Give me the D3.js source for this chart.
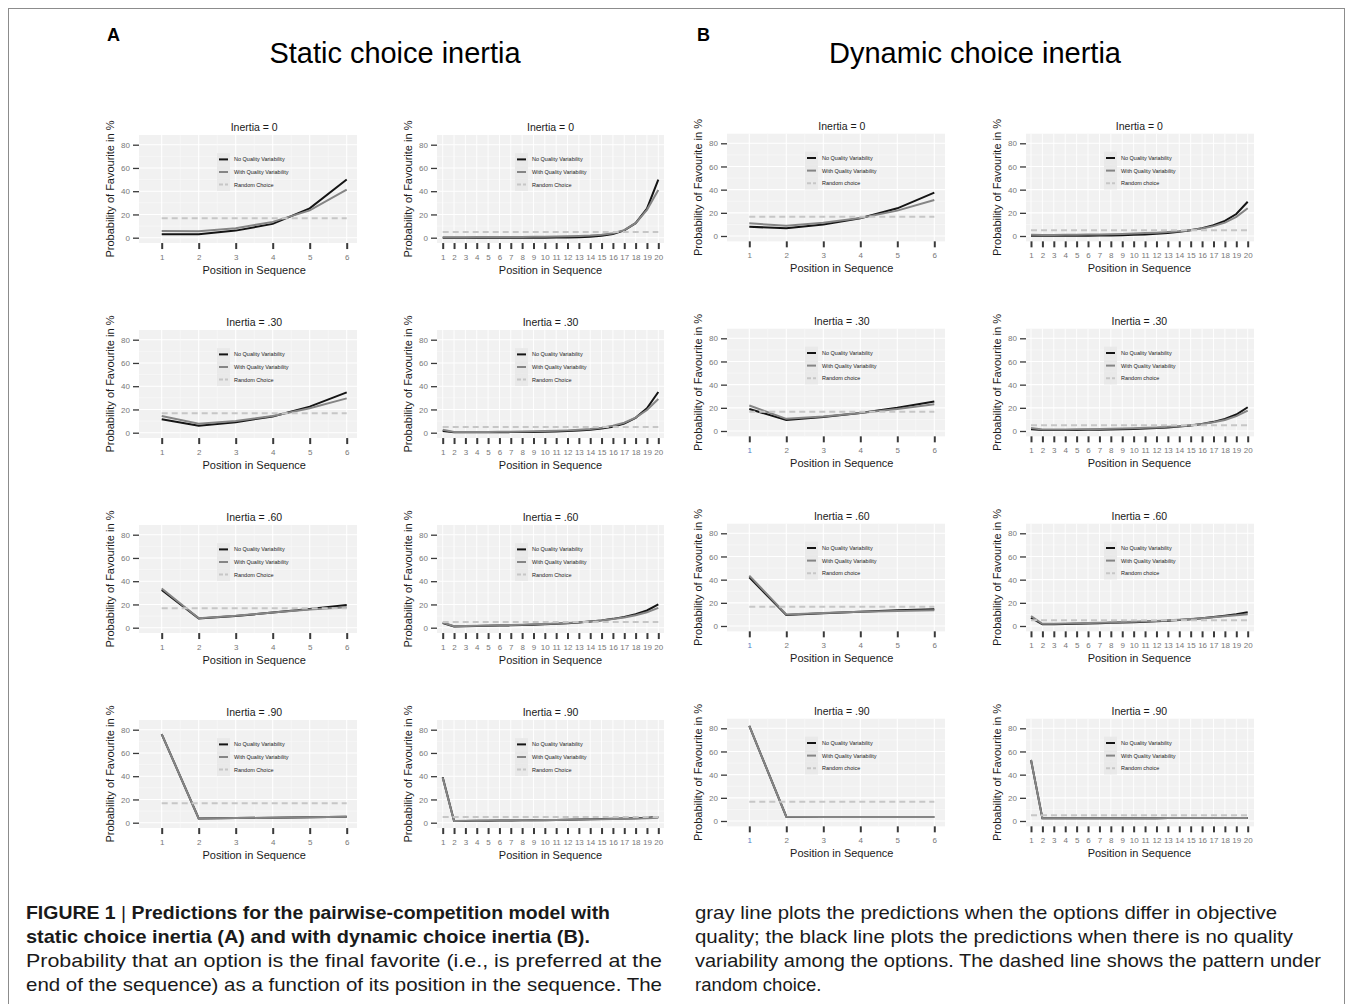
<!DOCTYPE html>
<html lang="en">

<head>
    <meta charset="UTF-8">
    <script src="https://cdn.jsdelivr.net/npm/d3@7"></script>
    <style>
        * {
            margin: 0;
            padding: 0;
        }

        body {
            background: #ffffff;
        }

        svg {
            display: block;
            font-family: "Liberation Sans", Arial, sans-serif;
        }

        .caption {
            font-family: "Liberation Sans", Arial, sans-serif;
            font-size: 18.5px;
            fill: #1a1a1a;
        }
    </style>
    <title>Choice inertia</title>
</head>

<body>
    <script>
        const width = 1352;
        const height = 1004;

        // ---- data ----
        const positionsShort = [1, 2, 3, 4, 5, 6];
        const positionsLong = [1, 2, 3, 4, 5, 6, 7, 8, 9, 10, 11, 12, 13, 14, 15, 16, 17, 18, 19, 20];
        const inertiaLabels = ["0", ".30", ".60", ".90"];
        const yTicks = [0, 20, 40, 60, 80];
        const seriesNames = ["No Quality Variability", "With Quality Variability"];
        const randomShort = 16.7;
        const randomLong = 5;

        // static inertia, 6 options (one row per inertia level)
        const staticShortNoQV = [
            [2.9, 2.9, 6.1, 11.9, 25.2, 50.0],
            [11.5, 6.0, 9.0, 14.0, 22.4, 34.7],
            [32.4, 8.0, 10.0, 13.0, 16.0, 19.5],
            [76.2, 3.7, 4.0, 4.3, 4.6, 5.2]
        ];
        const staticShortWithQV = [
            [5.8, 5.5, 8.1, 13.6, 23.5, 41.4],
            [14.3, 7.7, 10.0, 14.3, 21.0, 29.5],
            [33.8, 8.2, 10.2, 13.0, 15.7, 17.5],
            [76.2, 3.7, 4.0, 4.3, 4.6, 5.2]
        ];
        // static inertia, 20 options
        const staticLongNoQV = [
            [0, 0, 0, 0, 0, 0, 0, 0, 0, 0, 0.1, 0.2, 0.4, 0.8, 1.6, 3.1, 6.3, 12.5, 25.0, 50.0],
            [1.5, 0.3, 0.3, 0.3, 0.4, 0.4, 0.5, 0.6, 0.7, 0.9, 1.1, 1.4, 1.9, 2.6, 3.6, 5.1, 7.8, 12.8, 21.0, 35.0],
            [4.0, 1.0, 1.2, 1.4, 1.6, 1.8, 2.0, 2.3, 2.6, 3.0, 3.4, 3.9, 4.5, 5.3, 6.3, 7.6, 9.3, 11.6, 14.8, 20.0],
            [39.0, 1.4, 1.5, 1.6, 1.7, 1.8, 1.9, 2.0, 2.1, 2.2, 2.4, 2.5, 2.7, 2.9, 3.1, 3.3, 3.6, 3.9, 4.3, 4.9]
        ];
        const staticLongWithQV = [
            [0.4, 0.4, 0.4, 0.5, 0.5, 0.6, 0.6, 0.7, 0.8, 0.9, 1.0, 1.2, 1.5, 1.9, 2.6, 3.8, 6.5, 12.5, 24.0, 41.0],
            [2.5, 0.6, 0.6, 0.7, 0.7, 0.8, 0.9, 1.0, 1.2, 1.4, 1.6, 2.0, 2.5, 3.2, 4.3, 6.0, 8.6, 13.0, 19.5, 29.0],
            [4.5, 1.3, 1.5, 1.7, 1.9, 2.1, 2.3, 2.6, 2.9, 3.2, 3.6, 4.1, 4.7, 5.4, 6.3, 7.4, 8.8, 10.7, 13.3, 17.0],
            [38.7, 1.5, 1.6, 1.7, 1.8, 1.9, 2.0, 2.1, 2.2, 2.3, 2.4, 2.6, 2.7, 2.9, 3.0, 3.2, 3.4, 3.6, 3.9, 4.3]
        ];
        // dynamic inertia, 6 options
        const dynamicShortNoQV = [
            [8.0, 6.6, 10.0, 15.3, 23.9, 37.4],
            [19.0, 9.5, 12.0, 15.5, 20.0, 25.5],
            [42.0, 9.5, 11.0, 12.2, 13.5, 14.5],
            [82.0, 3.7, 3.5, 3.5, 3.4, 3.4]
        ];
        const dynamicShortWithQV = [
            [10.9, 8.9, 11.5, 15.5, 21.9, 31.1],
            [22.0, 10.5, 12.5, 15.5, 19.0, 23.0],
            [43.5, 10.0, 11.2, 12.2, 13.0, 13.5],
            [82.0, 3.7, 3.5, 3.5, 3.4, 3.4]
        ];
        // dynamic inertia, 20 options
        const dynamicLongNoQV = [
            [0.3, 0.2, 0.2, 0.2, 0.3, 0.3, 0.4, 0.5, 0.7, 1.0, 1.4, 1.9, 2.6, 3.6, 5.0, 6.8, 9.3, 13.0, 19.0, 29.6],
            [1.5, 0.8, 0.8, 0.9, 0.9, 1.0, 1.1, 1.3, 1.5, 1.8, 2.1, 2.5, 3.1, 3.8, 4.8, 6.1, 7.9, 10.4, 14.2, 20.5],
            [7.0, 1.5, 1.6, 1.8, 2.0, 2.2, 2.4, 2.7, 3.0, 3.3, 3.7, 4.1, 4.6, 5.2, 5.9, 6.7, 7.7, 8.8, 10.1, 11.8],
            [52.7, 2.3, 2.3, 2.3, 2.3, 2.3, 2.3, 2.4, 2.4, 2.4, 2.4, 2.4, 2.5, 2.5, 2.5, 2.5, 2.5, 2.6, 2.6, 2.6]
        ];
        const dynamicLongWithQV = [
            [1.0, 0.8, 0.9, 1.0, 1.1, 1.2, 1.4, 1.6, 1.8, 2.1, 2.5, 2.9, 3.5, 4.2, 5.1, 6.5, 8.5, 11.5, 16.5, 23.9],
            [2.5, 1.3, 1.3, 1.4, 1.5, 1.6, 1.7, 1.9, 2.1, 2.4, 2.7, 3.1, 3.6, 4.2, 5.0, 6.0, 7.5, 9.5, 12.8, 17.5],
            [8.5, 1.9, 2.0, 2.2, 2.4, 2.6, 2.8, 3.1, 3.4, 3.7, 4.0, 4.4, 4.9, 5.4, 6.0, 6.7, 7.5, 8.4, 9.2, 10.2],
            [52.7, 2.3, 2.3, 2.3, 2.3, 2.3, 2.3, 2.4, 2.4, 2.4, 2.4, 2.4, 2.5, 2.5, 2.5, 2.5, 2.5, 2.6, 2.6, 2.6]
        ];

        const captionLeft = [
            "static choice inertia (A) and with dynamic choice inertia (B).",
            "Probability that an option is the final favorite (i.e., is preferred at the",
            "end of the sequence) as a function of its position in the sequence. The"
        ];
        const captionRight = [
            "gray line plots the predictions when the options differ in objective",
            "quality; the black line plots the predictions when there is no quality",
            "variability among the options. The dashed line shows the pattern under",
            "random choice."
        ];

        // ---- layout ----
        const rowStep = 195;
        const columns = [
            { left: 139, right: 357, x1: 161.7, xN: 346.7, y0: 237.7, y80: 144.7, positions: positionsShort,
              noQV: staticShortNoQV, withQV: staticShortWithQV, random: randomShort, randomLabel: "Random Choice", blueOne: false },
            { left: 437, right: 664, x1: 442.7, xN: 658.3, y0: 237.7, y80: 144.7, positions: positionsLong,
              noQV: staticLongNoQV, withQV: staticLongWithQV, random: randomLong, randomLabel: "Random Choice", blueOne: false },
            { left: 727, right: 945, x1: 749.3, xN: 934.3, y0: 236, y80: 143.3, positions: positionsShort,
              noQV: dynamicShortNoQV, withQV: dynamicShortWithQV, random: randomShort, randomLabel: "Random choice", blueOne: true },
            { left: 1026, right: 1254, x1: 1031, xN: 1247.7, y0: 236, y80: 143.3, positions: positionsLong,
              noQV: dynamicLongNoQV, withQV: dynamicLongWithQV, random: randomLong, randomLabel: "Random choice", blueOne: false }
        ];

        const svg = d3.select("body")
            .append("svg")
            .attr("width", width)
            .attr("height", height);

        // frame
        svg.append("rect")
            .attr("x", 8.5).attr("y", 8.5)
            .attr("width", 1336).attr("height", 1030)
            .attr("fill", "none")
            .attr("stroke", "#8c8c8c");

        drawHeader();
        columns.forEach(col => inertiaLabels.forEach((lab, r) => drawPanel(col, r)));
        drawCaption();

        function drawHeader() {
            svg.append("text").attr("x", 107).attr("y", 41)
                .attr("font-size", 18).attr("font-weight", "bold").text("A");
            svg.append("text").attr("x", 697).attr("y", 41)
                .attr("font-size", 18).attr("font-weight", "bold").text("B");
            svg.append("text").attr("x", 395).attr("y", 63)
                .attr("text-anchor", "middle").attr("font-size", 29)
                .attr("textLength", 251).attr("lengthAdjust", "spacingAndGlyphs")
                .text("Static choice inertia");
            svg.append("text").attr("x", 975).attr("y", 63)
                .attr("text-anchor", "middle").attr("font-size", 29)
                .attr("textLength", 292).attr("lengthAdjust", "spacingAndGlyphs")
                .text("Dynamic choice inertia");
        }

        function drawPanel(col, r) {
            const off = r * rowStep;
            const n = col.positions.length;
            const x = d3.scaleLinear().domain([1, n]).range([col.x1, col.xN]);
            const y = d3.scaleLinear().domain([0, 80]).range([col.y0 + off, col.y80 + off]);
            const top = y(88.3);
            const bottom = y(-4.6);
            const cx = (col.x1 + col.xN) / 2;
            const g = svg.append("g");

            // panel background + grid
            g.append("rect")
                .attr("x", col.left).attr("y", top)
                .attr("width", col.right - col.left).attr("height", bottom - top)
                .attr("fill", "#f1f1f1");
            g.selectAll("line.hminor").data([10, 30, 50, 70]).enter().append("line")
                .attr("x1", col.left).attr("x2", col.right)
                .attr("y1", d => y(d)).attr("y2", d => y(d))
                .attr("stroke", "#fafafa").attr("stroke-width", 0.6);
            g.selectAll("line.hmajor").data(yTicks).enter().append("line")
                .attr("x1", col.left).attr("x2", col.right)
                .attr("y1", d => y(d)).attr("y2", d => y(d))
                .attr("stroke", "#ffffff").attr("stroke-width", 1.1);
            if (n < 10) {
                g.selectAll("line.vminor").data(col.positions.slice(1)).enter().append("line")
                    .attr("x1", d => x(d - 0.5)).attr("x2", d => x(d - 0.5))
                    .attr("y1", top).attr("y2", bottom)
                    .attr("stroke", "#fafafa").attr("stroke-width", 0.6);
            }
            g.selectAll("line.vmajor").data(col.positions).enter().append("line")
                .attr("x1", d => x(d)).attr("x2", d => x(d))
                .attr("y1", top).attr("y2", bottom)
                .attr("stroke", "#ffffff").attr("stroke-width", n < 10 ? 1.1 : 0.9);

            // axes
            const yAxis = g.append("g")
                .attr("transform", `translate(${col.left},0)`)
                .call(d3.axisLeft(y).tickValues(yTicks).tickSize(6).tickPadding(3));
            const xAxis = g.append("g")
                .attr("transform", `translate(0,${bottom})`)
                .call(d3.axisBottom(x).tickValues(col.positions).tickFormat(d3.format("d")).tickSize(6).tickPadding(5));
            [yAxis, xAxis].forEach(a => {
                a.select(".domain").remove();
                a.selectAll("text")
                    .attr("fill", "#777777")
                    .attr("font-size", 8)
                    .attr("font-family", "'Liberation Sans', Arial, sans-serif");
            });
            yAxis.selectAll("line").attr("stroke", "#3a3a3a").attr("stroke-width", 1.3);
            xAxis.selectAll("line").attr("stroke", "#3a3a3a").attr("stroke-width", 2);
            if (col.blueOne && r > 0) {
                xAxis.selectAll("text").filter(d => d === 1).attr("fill", "#4f7cc6");
            }

            // titles
            g.append("text").attr("x", cx).attr("y", col.y80 + off - 13.5)
                .attr("text-anchor", "middle").attr("font-size", 10.5).attr("fill", "#1a1a1a")
                .text("Inertia = " + inertiaLabels[r]);
            g.append("text").attr("x", cx).attr("y", bottom + 31)
                .attr("text-anchor", "middle").attr("font-size", 11).attr("fill", "#1a1a1a")
                .text("Position in Sequence");
            g.append("text")
                .attr("transform", `translate(${col.left - 29},${(top + bottom) / 2}) rotate(-90)`)
                .attr("dy", "0.35em")
                .attr("text-anchor", "middle").attr("font-size", 11).attr("fill", "#1a1a1a")
                .text("Probability of Favourite in %");

            // series
            const line = d3.line().x((d, i) => x(col.positions[i])).y(d => y(d));
            g.append("path").datum(col.noQV[r])
                .attr("d", line).attr("fill", "none")
                .attr("stroke", "#141414").attr("stroke-width", 2);
            g.append("path").datum(col.withQV[r])
                .attr("d", line).attr("fill", "none")
                .attr("stroke", "#858585").attr("stroke-width", 2);
            g.append("path").datum(col.positions.map(() => col.random))
                .attr("d", line).attr("fill", "none")
                .attr("stroke", "#c6c6c6").attr("stroke-width", 2)
                .attr("stroke-dasharray", "6,4");

            // legend
            const lg = g.append("g").attr("transform", `translate(${col.left + 78},${col.y80 + off + 14.7})`);
            const items = [
                { label: seriesNames[0], color: "#141414", dash: null },
                { label: seriesNames[1], color: "#858585", dash: null },
                { label: col.randomLabel, color: "#c6c6c6", dash: "4,2" }
            ];
            items.forEach((it, i) => {
                const yy = i * 12.6;
                lg.append("rect").attr("x", 0).attr("y", yy - 6.3)
                    .attr("width", 13).attr("height", 12.6).attr("fill", "#e9e9e9");
                lg.append("line").attr("x1", 2).attr("x2", 11).attr("y1", yy).attr("y2", yy)
                    .attr("stroke", it.color).attr("stroke-width", 2)
                    .attr("stroke-dasharray", it.dash);
                lg.append("text").attr("x", 17).attr("y", yy).attr("dy", "0.35em")
                    .attr("font-size", 5.5).attr("fill", "#222222")
                    .text(it.label);
            });
        }

        function drawCaption() {
            const baseY = 919;
            const lh = 24;
            const first = svg.append("text").attr("class", "caption")
                .attr("x", 26).attr("y", baseY)
                .attr("textLength", 584).attr("lengthAdjust", "spacingAndGlyphs");
            first.append("tspan").attr("font-weight", "bold").text("FIGURE 1 ");
            first.append("tspan").text("| ");
            first.append("tspan").attr("font-weight", "bold").text("Predictions for the pairwise-competition model with");

            const leftWidths = [564, 636, 636];
            captionLeft.forEach((t, i) => {
                svg.append("text").attr("class", "caption")
                    .attr("x", 26).attr("y", baseY + (i + 1) * lh)
                    .attr("font-weight", i === 0 ? "bold" : null)
                    .attr("textLength", leftWidths[i]).attr("lengthAdjust", "spacingAndGlyphs")
                    .text(t);
            });
            const rightWidths = [582, 598, 626, null];
            captionRight.forEach((t, i) => {
                const tx = svg.append("text").attr("class", "caption")
                    .attr("x", 695).attr("y", baseY + i * lh)
                    .text(t);
                if (rightWidths[i]) {
                    tx.attr("textLength", rightWidths[i]).attr("lengthAdjust", "spacingAndGlyphs");
                }
            });
        }
    </script>
</body>

</html>
